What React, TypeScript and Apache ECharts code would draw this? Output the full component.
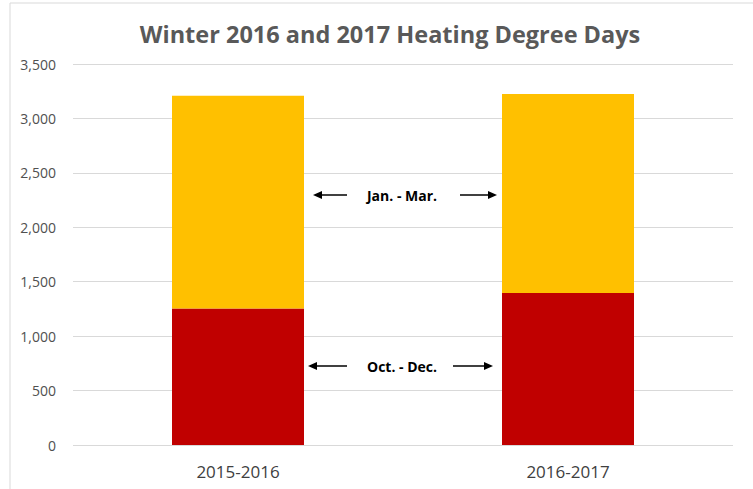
import React, { useEffect, useRef } from "react";
import * as echarts from "echarts";

const categories = ["2015-2016", "2016-2017"];
const octDec = [1253, 1397];
const janMar = [1955, 1827];
const seriesNames = ["Oct. - Dec.", "Jan. - Mar."];
const titleText = "Winter 2016 and 2017 Heating Degree Days";

export default function App() {
  const ref = useRef<HTMLDivElement>(null);
  useEffect(() => {
    document.body.style.margin = "0";
    const chart = echarts.init(ref.current!, null, { renderer: "svg" });
    const arrow = (x1: number, x2: number, y: number, dir: "left" | "right") => {
      const tip = dir === "left" ? x1 : x2;
      const s = dir === "left" ? 1 : -1;
      return [
        {
          type: "line",
          shape: { x1: dir === "left" ? x1 + 6 : x1, y1: y, x2: dir === "left" ? x2 : x2 - 6, y2: y },
          style: { stroke: "#000", lineWidth: 1.5 },
        },
        {
          type: "polygon",
          shape: { points: [[tip, y], [tip + s * 9, y - 4], [tip + s * 9, y + 4]] },
          style: { fill: "#000" },
        },
      ];
    };
    const noteStyle = {
      fontFamily: "Open Sans",
      fontSize: 14,
      fontWeight: "bold",
      fill: "#000",
      align: "center",
      verticalAlign: "middle",
    };
    chart.setOption({
      animation: false,
      backgroundColor: "#fff",
      title: {
        text: titleText,
        left: 385,
        top: 17,
        textAlign: "center",
        textStyle: { fontFamily: "Open Sans", fontSize: 23.5, fontWeight: "bold", color: "#595959" },
      },
      grid: { left: 73, right: 20, top: 64, bottom: 44 },
      xAxis: {
        type: "category",
        data: categories,
        axisLine: { show: false },
        axisTick: { show: false },
        axisLabel: { fontFamily: "Open Sans", fontSize: 17, color: "#404040", margin: 18 },
      },
      yAxis: {
        type: "value",
        min: 0,
        max: 3500,
        interval: 500,
        axisLine: { show: false },
        axisTick: { show: false },
        splitLine: { lineStyle: { color: "#D9D9D9", width: 1 } },
        axisLabel: {
          fontFamily: "Open Sans",
          fontSize: 14,
          color: "#505050",
          margin: 17,
          formatter: (v: number) => v.toLocaleString("en-US"),
        },
      },
      series: [
        {
          name: seriesNames[0],
          type: "bar",
          stack: "hdd",
          data: octDec,
          barWidth: 132,
          itemStyle: { color: "#C00000" },
        },
        {
          name: seriesNames[1],
          type: "bar",
          stack: "hdd",
          data: janMar,
          barWidth: 132,
          itemStyle: { color: "#FFC000" },
        },
      ],
      graphic: [
        { type: "line", shape: { x1: 10, y1: 3, x2: 753, y2: 3 }, style: { stroke: "#D9D9D9", lineWidth: 1 } },
        { type: "line", shape: { x1: 10, y1: 3, x2: 10, y2: 489 }, style: { stroke: "#D9D9D9", lineWidth: 1 } },
        { type: "text", x: 402, y: 195, style: { ...noteStyle, text: seriesNames[1] } },
        ...arrow(313, 347, 195, "left"),
        ...arrow(460, 497, 195, "right"),
        { type: "text", x: 402, y: 366, style: { ...noteStyle, text: seriesNames[0] } },
        ...arrow(308, 347, 366, "left"),
        ...arrow(453, 493, 366, "right"),
      ],
    });
    return () => chart.dispose();
  }, []);
  return <div ref={ref} style={{ width: 753, height: 489 }} />;
}
